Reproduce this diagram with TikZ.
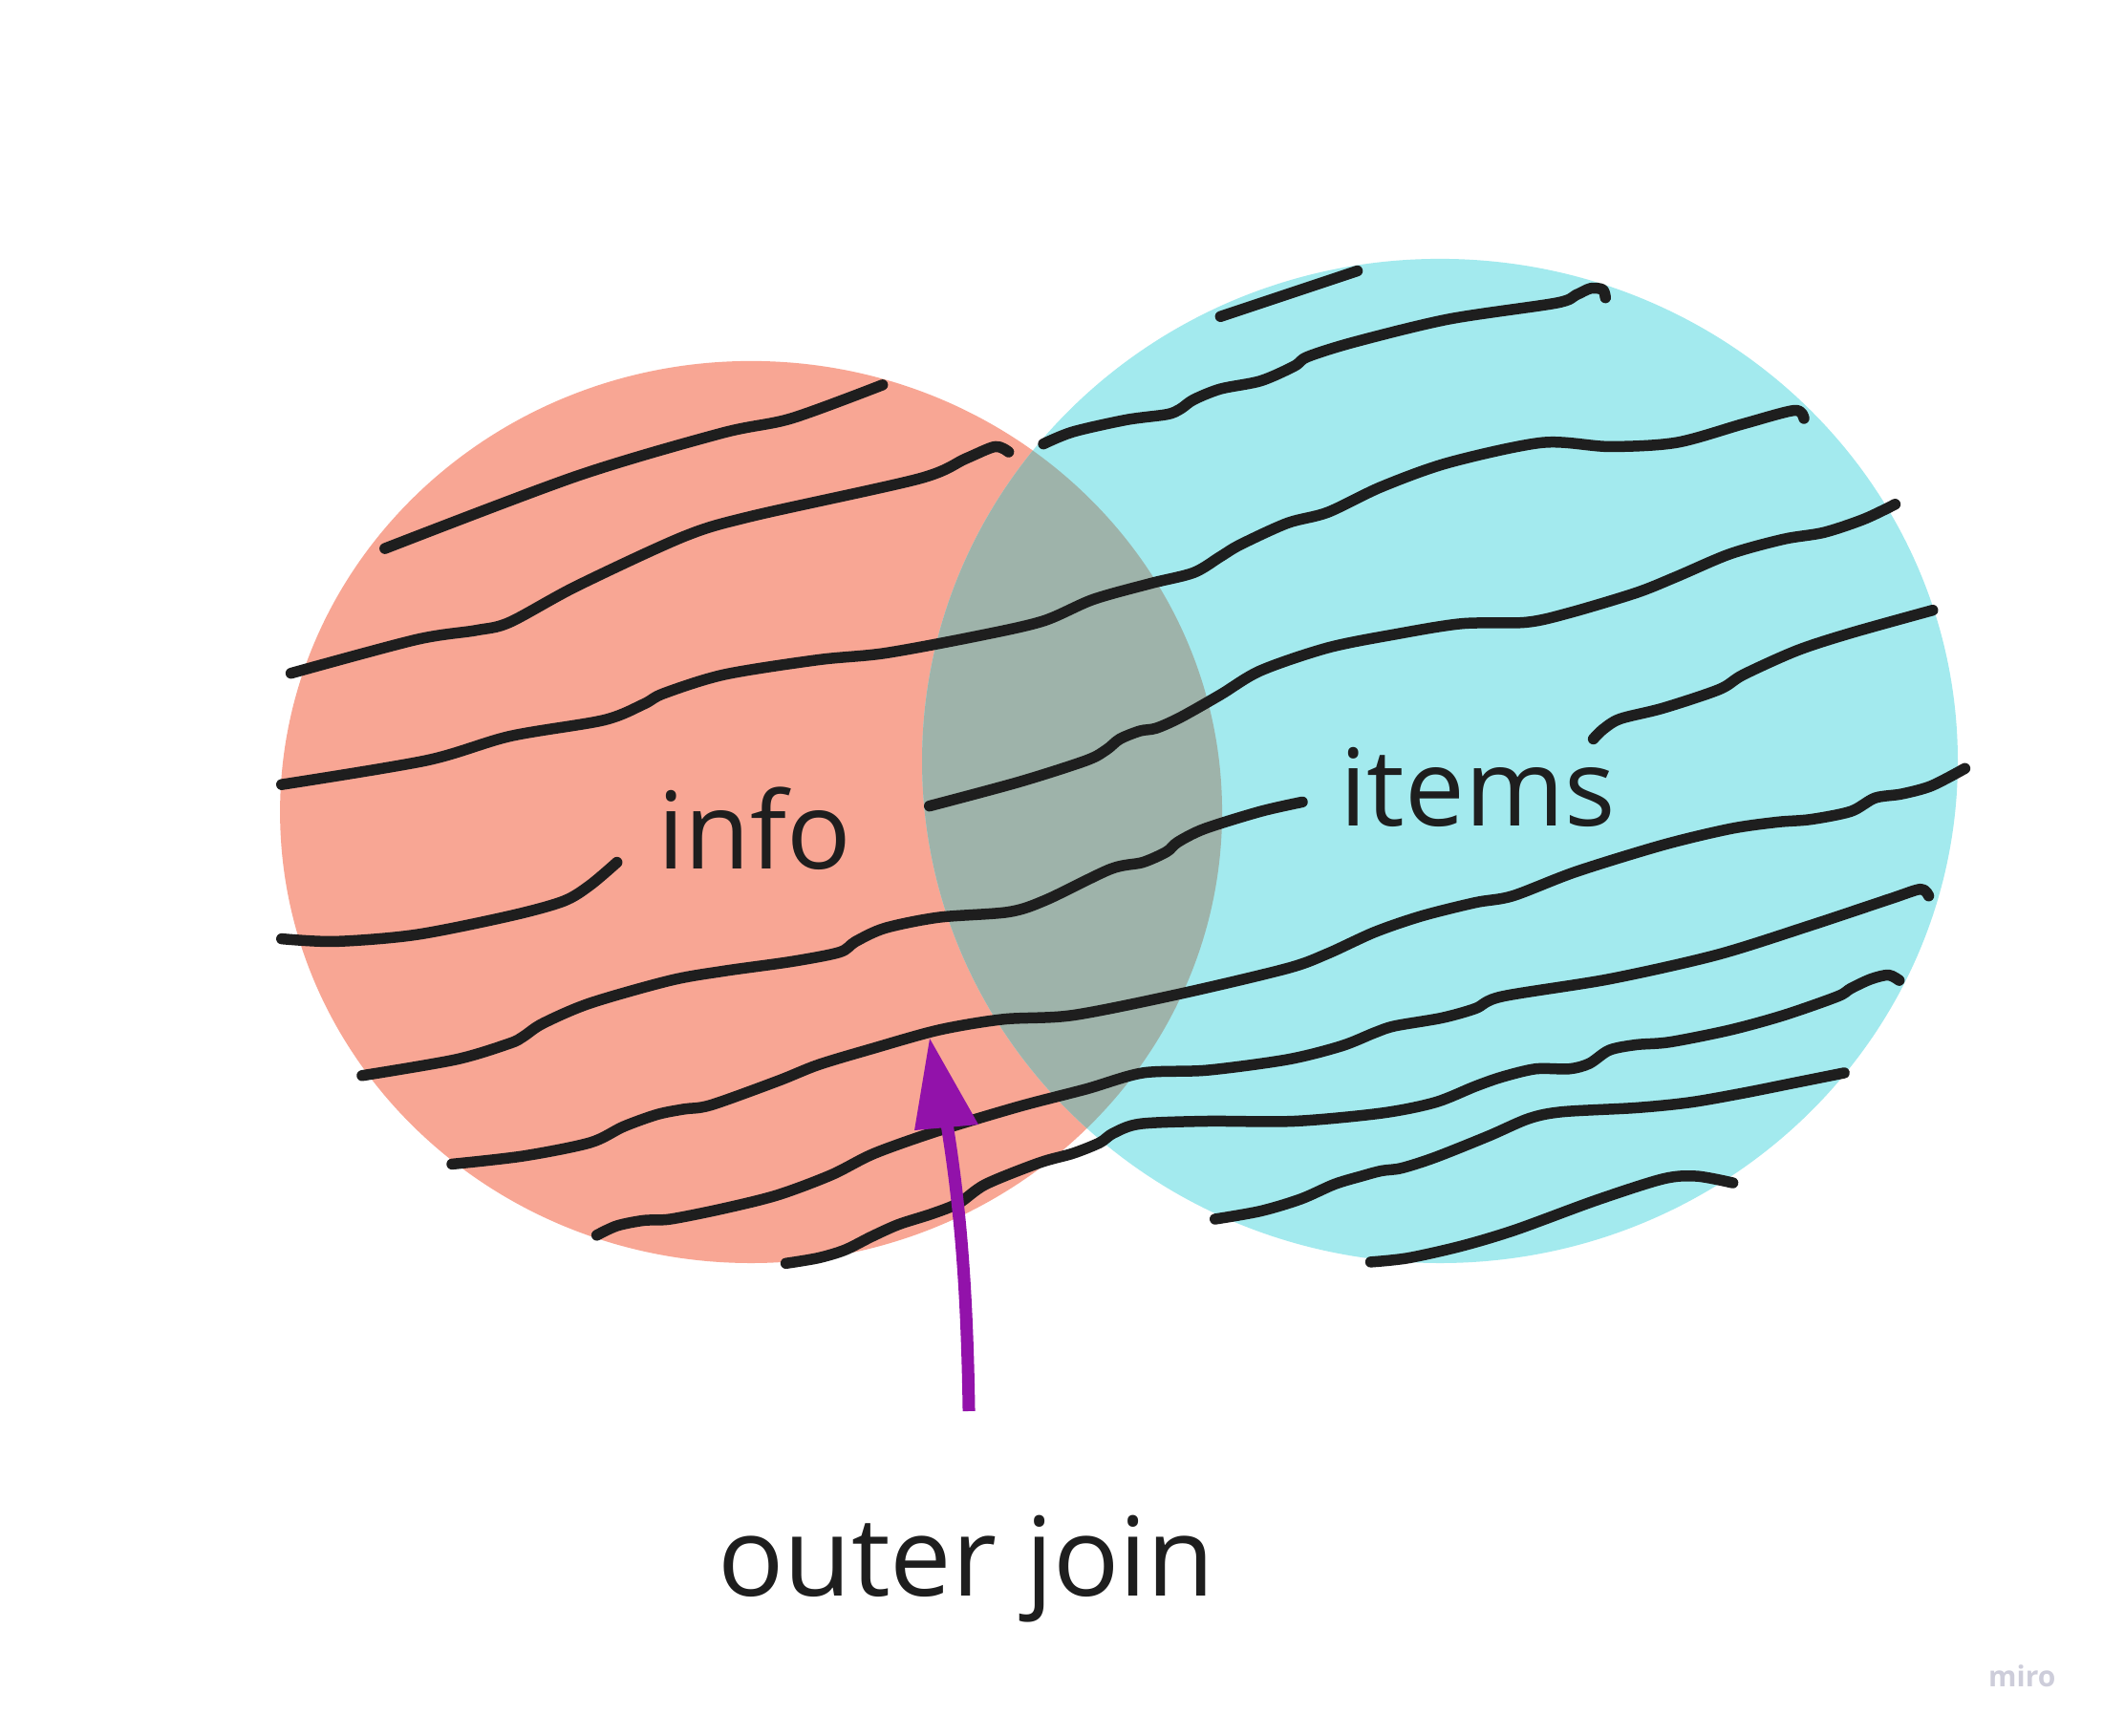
\documentclass[tikz,border=0pt]{standalone}
\usepackage{fontspec}
\setmainfont{Open Sans}
\definecolor{salmon}{HTML}{F8A694}
\definecolor{aqua}{HTML}{A3EAEE}
\definecolor{overlap}{HTML}{9EB3AA}
\definecolor{ink}{HTML}{1E1E1E}
\definecolor{violet}{HTML}{9212AA}
\definecolor{logo}{HTML}{CDCDDA}
\begin{document}
\begin{tikzpicture}[x=1.4037pt,y=-1.4037pt,
  stroke/.style={draw=ink,line width=11.5pt,line cap=round,line join=round},
  label/.style={text=ink,inner sep=0pt,anchor=base west,font=\fontsize{112}{130}\selectfont},
  sm/.style={smooth,tension=0.5}]
\path[use as bounding box,fill=white] (0,0) rectangle (1568,1294);
% sets
\fill[salmon] (560,605.5) ellipse [x radius=351.2,y radius=336.3];
\fill[aqua] (1073.6,567.4) ellipse [x radius=386.1,y radius=374.4];
\begin{scope}
\clip (560,605.5) ellipse [x radius=351.2,y radius=336.3];
\fill[overlap] (1073.6,567.4) ellipse [x radius=386.1,y radius=374.4];
\end{scope}
% strokes
\draw[stroke] plot[sm] coordinates {(287,409) (430,355) (538,323) (590,312) (658,287)};
\draw[stroke] plot[sm] coordinates {(217,502) (310,477) (355,470) (380,464) (430,437) (510,400) (560,385) (685,357) (720,342) (742,333) (752,337)};
\draw[stroke] plot[sm] coordinates {(210,585) (318,567) (380,549) (450,537) (480,525) (495,517) (540,503) (610,492) (660,487) (730,474) (778,463) (815,447) (858,435) (890,427) (910,415) (925,406) (960,390) (990,382) (1030,363) (1080,345) (1150,330) (1200,333) (1250,330) (1300,316) (1338,306) (1345,312)};
\draw[stroke] plot[sm] coordinates {(778,331) (800,322) (840,313) (870,309) (880,305) (890,298) (910,290) (940,284) (965,273) (975,266) (1010,255) (1080,238) (1160,226) (1175,220) (1186,215) (1195,216) (1197,222)};
\draw[stroke] plot[sm] coordinates {(910,236) (1012,202)};
\draw[stroke] plot[sm] coordinates {(693,601) (760,583) (810,567) (825,559) (835,551) (850,545) (862,543) (880,535) (910,518) (940,500) (990,483) (1040,473) (1090,465) (1138,464) (1170,457) (1220,442) (1250,430) (1290,413) (1330,402) (1360,397) (1390,387) (1413,376)};
\draw[stroke] plot[sm] coordinates {(210,700) (250,702) (310,697) (380,683) (420,672) (440,660) (460,643)};
\draw[stroke] plot[sm] coordinates {(270,802) (340,790) (380,778) (390,773) (405,763) (440,748) (500,731) (540,724) (590,717) (626,710) (638,702) (660,692) (700,684) (752,680) (780,671) (828,648) (852,643) (870,635) (878,628) (898,618) (940,605) (971,598)};
\draw[stroke] plot[sm] coordinates {(337,868) (390,862) (440,852) (465,840) (490,831) (510,827) (530,824) (580,806) (610,794) (650,782) (700,768) (748,760) (800,757) (880,741) (960,722) (990,711) (1025,695) (1060,683) (1100,673) (1128,668) (1175,650) (1240,630) (1290,618) (1325,613) (1350,611) (1380,605) (1398,595) (1418,592) (1440,586) (1465,573)};
\draw[stroke] plot[sm] coordinates {(445,921) (460,914) (480,910) (500,909) (540,901) (580,891) (620,876) (652,860) (700,843) (760,825) (810,812) (852,800) (900,798) (960,790) (1000,780) (1025,770) (1040,765) (1075,759) (1100,752) (1120,743) (1200,730) (1280,712) (1350,690) (1410,670) (1432,663) (1438,668)};
\draw[stroke] plot[sm] coordinates {(586,942) (610,938) (630,932) (650,922) (670,913) (695,905) (715,897) (735,883) (775,867) (800,860) (820,852) (830,845) (850,838) (900,836) (965,836) (1030,830) (1070,822) (1100,810) (1120,803) (1145,797) (1170,797) (1185,793) (1200,783) (1220,779) (1245,777) (1290,768) (1330,757) (1370,743) (1380,737) (1395,730) (1408,727) (1416,731)};
\draw[stroke] plot[sm] coordinates {(906,909) (940,903) (970,894) (995,883) (1015,877) (1030,873) (1045,871) (1070,863) (1110,847) (1140,834) (1165,829) (1220,826) (1260,822) (1300,815) (1340,807) (1375,800)};
\draw[stroke] plot[sm] coordinates {(1022,941) (1050,938) (1090,929) (1130,917) (1190,895) (1240,879) (1265,877) (1292,882)};
\draw[stroke] plot[sm] coordinates {(1188,551) (1195,544) (1208,536) (1240,528) (1282,514) (1300,503) (1340,485) (1380,472) (1441,455)};
% labels
\node[label] (info) at (490,648) {info};
\node[label] (items) at (999,616.2) {items};
\node[label,font=\fontsize{115}{130}\selectfont] (outer) at (535,1190) {outer join};
\node[inner sep=0pt,anchor=base west,text=logo,font=\bfseries\fontsize{30}{36}\selectfont] (miro) at (1482.5,1257.4) {miro};
% arrow
\coordinate (tail) at (722.4,1052.2);
\coordinate (tip) at (693.2,774.4);
\draw[violet,line width=13pt] (tail) .. controls (721,960) and (716,900) .. (706,838);
\fill[violet] (tip) -- (681.8,842.8) -- (729.5,838.5) -- cycle;
\end{tikzpicture}
\end{document}
